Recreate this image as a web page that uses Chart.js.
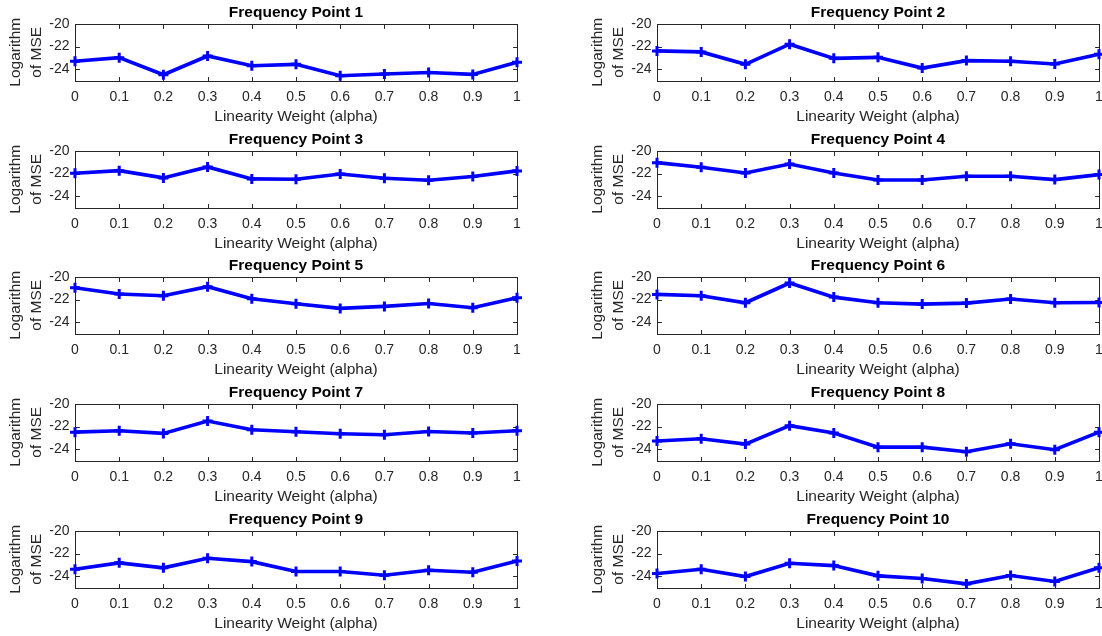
<!DOCTYPE html>
<html>
<head>
<meta charset="utf-8">
<script src="https://cdn.jsdelivr.net/npm/chart.js@4.4.1/dist/chart.umd.min.js"></script>
<style>
  html, body { margin: 0; padding: 0; background: #fff; width: 1102px; height: 636px; overflow: hidden; }
  #grid { position: relative; width: 1102px; height: 636px; }
  #grid canvas { position: absolute; }
</style>
</head>
<body>
<div id="grid"></div>
<script>
// Linearity weight values on the x axis and their tick labels
const alphaValues = [0, 0.1, 0.2, 0.3, 0.4, 0.5, 0.6, 0.7, 0.8, 0.9, 1];
const xTickLabels = ['0', '0.1', '0.2', '0.3', '0.4', '0.5', '0.6', '0.7', '0.8', '0.9', '1'];

// Log-MSE axis range and ticks
const yRange = [-25, -20];
const yTickValues = [-24, -22, -20];
const yTickLabels = ['-24', '-22', '-20'];

// Logarithm of MSE per frequency point
const fp1  = [-23.30, -22.98, -24.49, -22.83, -23.69, -23.57, -24.58, -24.43, -24.29, -24.46, -23.39];
const fp2  = [-22.38, -22.47, -23.57, -21.79, -23.04, -22.95, -23.90, -23.24, -23.30, -23.54, -22.68];
const fp3  = [-21.97, -21.74, -22.38, -21.41, -22.47, -22.50, -22.03, -22.41, -22.59, -22.26, -21.76];
const fp4  = [-21.03, -21.44, -21.94, -21.15, -21.94, -22.56, -22.56, -22.24, -22.24, -22.53, -22.09];
const fp5  = [-20.95, -21.51, -21.66, -20.86, -21.92, -22.37, -22.78, -22.60, -22.34, -22.72, -21.83];
const fp6  = [-21.54, -21.66, -22.28, -20.53, -21.78, -22.28, -22.40, -22.31, -21.95, -22.28, -22.25];
const fp7  = [-22.49, -22.37, -22.60, -21.51, -22.28, -22.46, -22.63, -22.72, -22.43, -22.57, -22.37];
const fp8  = [-23.28, -23.08, -23.55, -21.92, -22.57, -23.82, -23.82, -24.23, -23.52, -24.05, -22.49];
const fp9  = [-23.38, -22.82, -23.26, -22.41, -22.71, -23.59, -23.59, -23.91, -23.47, -23.65, -22.65];
const fp10 = [-23.76, -23.38, -24.03, -22.85, -23.06, -23.97, -24.21, -24.68, -23.94, -24.47, -23.26];

const seriesList = [fp1, fp2, fp3, fp4, fp5, fp6, fp7, fp8, fp9, fp10];
const panelTitles = ['Frequency Point 1', 'Frequency Point 2', 'Frequency Point 3', 'Frequency Point 4',
  'Frequency Point 5', 'Frequency Point 6', 'Frequency Point 7', 'Frequency Point 8',
  'Frequency Point 9', 'Frequency Point 10'];
const xAxisTitle = 'Linearity Weight (alpha)';
const yAxisTitle = ['Logarithm', 'of MSE'];

// Panel placement (5 rows x 2 columns)
const layout = {
  colLeft: [0, 582],
  rowTop: [0, 127, 253, 380, 507],
  width: 530,
  height: 126
};

const FONT = '"Liberation Sans", Arial, Helvetica, sans-serif';
const AXIS_COLOR = '#262626';
const LINE_COLOR = '#0000ff';

// Draws a full box round the plot area with inward tick marks on all four sides
const axesBox = {
  id: 'axesBox',
  beforeDatasetsDraw(chart) {
    const { ctx, chartArea: a, scales: { x, y } } = chart;
    const L = Math.round(a.left) + 0.5, R = Math.round(a.right) + 0.5;
    const T = Math.round(a.top) + 0.5, B = Math.round(a.bottom) + 0.5;
    const tl = 4.4;
    ctx.save();
    ctx.strokeStyle = AXIS_COLOR;
    ctx.lineWidth = 1;
    ctx.strokeRect(L, T, R - L, B - T);
    ctx.beginPath();
    alphaValues.forEach(v => {
      const px = Math.round(x.getPixelForValue(v)) + 0.5;
      ctx.moveTo(px, B); ctx.lineTo(px, B - tl);
      ctx.moveTo(px, T); ctx.lineTo(px, T + tl);
    });
    yTickValues.forEach(v => {
      const py = Math.round(y.getPixelForValue(v)) + 0.5;
      ctx.moveTo(L, py); ctx.lineTo(L + tl, py);
      ctx.moveTo(R, py); ctx.lineTo(R - tl, py);
    });
    ctx.stroke();
    ctx.restore();
  }
};

const grid = document.getElementById('grid');

seriesList.forEach((series, i) => {
  const row = Math.floor(i / 2), col = i % 2;
  const canvas = document.createElement('canvas');
  canvas.width = layout.width;
  canvas.height = layout.height;
  canvas.style.left = layout.colLeft[col] + 'px';
  canvas.style.top = layout.rowTop[row] + 'px';
  canvas.style.width = layout.width + 'px';
  canvas.style.height = layout.height + 'px';
  grid.appendChild(canvas);

  new Chart(canvas, {
    type: 'line',
    data: {
      datasets: [{
        data: alphaValues.map((a, k) => ({ x: a, y: series[k] })),
        borderColor: LINE_COLOR,
        backgroundColor: LINE_COLOR,
        borderWidth: 3.6,
        pointStyle: 'cross',
        pointRadius: 5,
        pointBorderWidth: 3,
        pointBorderColor: LINE_COLOR,
        tension: 0,
        fill: false,
        clip: false
      }]
    },
    options: {
      responsive: false,
      animation: false,
      devicePixelRatio: 1,
      events: [],
      layout: { padding: { left: 0, right: 13, top: 0, bottom: 0 } },
      plugins: {
        legend: { display: false },
        tooltip: { enabled: false },
        title: {
          display: true,
          text: panelTitles[i],
          fullSize: false,
          color: '#000',
          font: { family: FONT, size: 15.5, weight: 'bold', lineHeight: 1.2 },
          padding: { top: 3.2, bottom: 2.2 }
        }
      },
      scales: {
        x: {
          type: 'linear',
          min: 0,
          max: 1,
          grid: { display: false, drawTicks: false },
          border: { display: false },
          afterBuildTicks: s => { s.ticks = alphaValues.map(v => ({ value: v })); },
          afterFit: s => { s.height = 45.5; s.paddingLeft = 0; s.paddingRight = 0; },
          ticks: {
            autoSkip: false,
            maxRotation: 0,
            padding: 9.5,
            color: AXIS_COLOR,
            font: { family: FONT, size: 14, lineHeight: 1 },
            callback: (v, k) => xTickLabels[k]
          },
          title: {
            display: true,
            text: xAxisTitle,
            color: AXIS_COLOR,
            font: { family: FONT, size: 15.5, lineHeight: 1.2 },
            padding: { top: 0, bottom: 0 }
          }
        },
        y: {
          type: 'linear',
          min: yRange[0],
          max: yRange[1],
          grid: { display: false, drawTicks: false },
          border: { display: false },
          afterBuildTicks: s => { s.ticks = yTickValues.map(v => ({ value: v })); },
          afterFit: s => { s.width = 75; s.paddingTop = 0; s.paddingBottom = 0; },
          ticks: {
            padding: 5.5,
            color: AXIS_COLOR,
            font: { family: FONT, size: 14, lineHeight: 1.2 },
            callback: (v, k) => yTickLabels[k]
          },
          title: {
            display: true,
            text: yAxisTitle,
            color: AXIS_COLOR,
            font: { family: FONT, size: 15.5, lineHeight: 1.355 },
            padding: { top: 5.5, bottom: 0 }
          }
        }
      }
    },
    plugins: [axesBox]
  });
});
</script>
</body>
</html>
